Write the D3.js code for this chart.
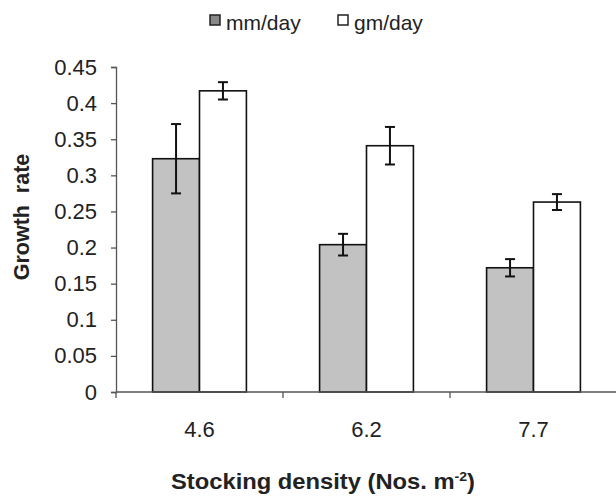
<!DOCTYPE html>
<html>
<head>
<meta charset="utf-8">
<script src="https://cdn.jsdelivr.net/npm/d3@7"></script>
<style>
  body { margin: 0; background: #fff; }
  svg { display: block; font-family: "Liberation Sans", Arial, sans-serif; }
</style>
</head>
<body>
<svg id="chart" width="616" height="496"></svg>
<script>
const densities = ['4.6', '6.2', '7.7']
const seriesNames = ['mm/day', 'gm/day']
const mmPerDay = [0.323, 0.204, 0.172]
const gmPerDay = [0.417, 0.341, 0.263]
const mmErr = [0.048, 0.015, 0.012]
const gmErr = [0.012, 0.026, 0.011]
const yTicks = [0, 0.05, 0.1, 0.15, 0.2, 0.25, 0.3, 0.35, 0.4, 0.45]

const svg = d3.select('#chart')
const plotLeft = 116, plotTop = 67, plotBottom = 392
const bandW = 167

let x = d3.scaleBand()
    .domain(densities)
    .range([plotLeft, plotLeft + bandW * densities.length])

let y = d3.scaleLinear()
    .domain([0, 0.45])
    .range([plotBottom, plotTop])

let x1 = d3.scaleBand()
    .domain(seriesNames)
    .range([0, x.bandwidth()])
    .paddingOuter(0.78)

let fills = { 'mm/day': '#c2c2c2', 'gm/day': '#ffffff' }

let rows = []
densities.forEach((d, i) => {
    rows.push({ cat: d, s: 'mm/day', v: mmPerDay[i], e: mmErr[i] })
    rows.push({ cat: d, s: 'gm/day', v: gmPerDay[i], e: gmErr[i] })
})

// bars
svg.append('g').selectAll('rect')
    .data(rows)
    .enter()
    .append('rect')
    .attr('x', d => x(d.cat) + x1(d.s))
    .attr('y', d => y(d.v))
    .attr('width', x1.bandwidth())
    .attr('height', d => y(0) - y(d.v))
    .attr('fill', d => fills[d.s])
    .attr('stroke', '#111')
    .attr('stroke-width', 1.6)

// error bars
let eb = svg.append('g').attr('stroke', '#111').attr('stroke-width', 2)
rows.forEach(d => {
    let cx = x(d.cat) + x1(d.s) + x1.bandwidth() / 2
    eb.append('line').attr('x1', cx).attr('x2', cx).attr('y1', y(d.v + d.e)).attr('y2', y(d.v - d.e))
    eb.append('line').attr('x1', cx - 5).attr('x2', cx + 5).attr('y1', y(d.v + d.e)).attr('y2', y(d.v + d.e))
    eb.append('line').attr('x1', cx - 5).attr('x2', cx + 5).attr('y1', y(d.v - d.e)).attr('y2', y(d.v - d.e))
})

// y axis
let yAxis = svg.append('g')
    .attr('transform', `translate(${plotLeft},0)`)
    .call(d3.axisLeft(y).tickValues(yTicks).tickSize(5).tickPadding(14).tickFormat(d => String(+d.toFixed(2))))
yAxis.select('.domain').attr('stroke', '#555').attr('stroke-width', 1.3)
yAxis.selectAll('.tick line').attr('stroke', '#555').attr('stroke-width', 1.3)
yAxis.selectAll('text').attr('font-size', 22).attr('fill', '#222')
    .style('font-family', '"Liberation Sans", Arial, sans-serif')

// x axis: ticks on category boundaries
svg.append('line')
    .attr('x1', plotLeft).attr('x2', 616)
    .attr('y1', plotBottom).attr('y2', plotBottom)
    .attr('stroke', '#555').attr('stroke-width', 1.3)
svg.append('g').selectAll('line')
    .data(densities)
    .enter()
    .append('line')
    .attr('x1', d => x(d)).attr('x2', d => x(d))
    .attr('y1', plotBottom).attr('y2', plotBottom + 6)
    .attr('stroke', '#555').attr('stroke-width', 1.3)
svg.append('g').selectAll('text')
    .data(densities)
    .enter()
    .append('text')
    .attr('x', d => x(d) + x.bandwidth() / 2)
    .attr('y', 437)
    .attr('text-anchor', 'middle')
    .attr('font-size', 22)
    .attr('fill', '#222')
    .text(d => d)

// axis titles
let xt = svg.append('text')
    .attr('transform', 'translate(323,489)scale(1.08,1)')
    .attr('text-anchor', 'middle')
    .attr('font-size', 22)
    .attr('font-weight', 'bold')
    .attr('fill', '#222')
xt.append('tspan').text('Stocking density (Nos. m')
xt.append('tspan').attr('font-size', 13).attr('dy', -8).text('-2')
xt.append('tspan').attr('dy', 8).text(')')

svg.append('text')
    .attr('transform', 'translate(29,217)rotate(-90)')
    .attr('text-anchor', 'middle')
    .attr('font-size', 21.5)
    .attr('font-weight', 'bold')
    .attr('fill', '#222')
    .style('white-space', 'pre')
    .text('Growth  rate')

// legend
let legX = [210, 338]
let leg = svg.append('g').selectAll('g')
    .data(seriesNames)
    .enter()
    .append('g')
    .attr('transform', (d, i) => `translate(${legX[i]},15)`)
leg.append('rect')
    .attr('width', 10).attr('height', 10)
    .attr('fill', d => d === 'mm/day' ? '#888' : '#fff')
    .attr('stroke', '#222').attr('stroke-width', 1.5)
leg.append('text')
    .attr('x', 16).attr('y', 15)
    .attr('font-size', 21)
    .attr('fill', '#222')
    .text(d => d)
</script>
</body>
</html>
